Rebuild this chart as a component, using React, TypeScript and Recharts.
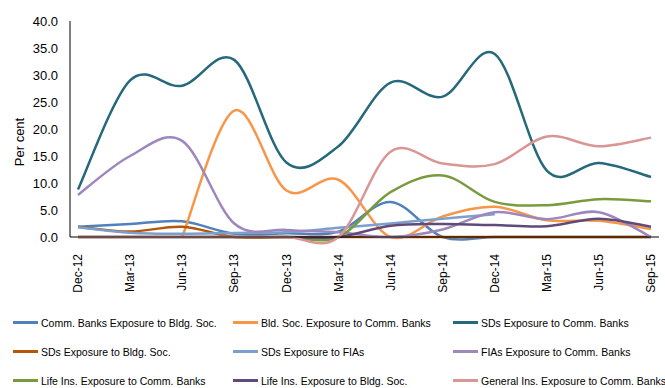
import React from 'react';
import { LineChart, Line, XAxis, YAxis, Legend } from 'recharts';

const quarters = ['Dec-12', 'Mar-13', 'Jun-13', 'Sep-13', 'Dec-13', 'Mar-14', 'Jun-14', 'Sep-14', 'Dec-14', 'Mar-15', 'Jun-15', 'Sep-15'];

const commBanksToBldgSoc = [1.9, 2.4, 2.9, 0.6, 0.7, 1.0, 6.5, 0, 0, 0, 0, 0];
const bldSocToCommBanks = [null, null, 0, 23.4, 8.6, 10.6, 0, 3.8, 5.6, 3.1, 3.0, 1.5];
const sdsToCommBanks = [8.8, 29.0, 28.0, 32.8, 13.8, 16.8, 28.6, 26.0, 33.9, 12.3, 13.7, 11.1];
const sdsToBldgSoc = [1.9, 1.0, 1.9, 0, 0, 0, 0, 0, 0, 0, 0, 0];
const sdsToFias = [1.8, 0.8, 0.6, 0.75, 0.9, 1.7, 2.5, 3.4, 4.2, null, null, null];
const fiasToCommBanks = [7.8, 15.0, 17.8, 2.5, 1.3, 0.9, 0, 1.4, 4.6, 3.3, 4.6, 0];
const lifeInsToCommBanks = [0, 0, 0, 0, 0, 0, 8.3, 11.4, 6.5, 5.9, 7.0, 6.6];
const lifeInsToBldgSoc = [0, 0, 0, 0, 0, 0, 2.1, 2.4, 2.2, 2.0, 3.4, 1.9];
const generalInsToCommBanks = [0, 0, 0, 0, 0, 0, 15.8, 13.6, 13.5, 18.6, 16.8, 18.4];

const yTicks = [0, 5, 10, 15, 20, 25, 30, 35, 40];

const series = [
  { key: 'commBanksToBldgSoc', name: 'Comm. Banks Exposure to Bldg. Soc.', color: '#4F81BD', values: commBanksToBldgSoc },
  { key: 'bldSocToCommBanks', name: 'Bld. Soc. Exposure to Comm. Banks', color: '#F79646', values: bldSocToCommBanks },
  { key: 'sdsToCommBanks', name: 'SDs Exposure to Comm. Banks', color: '#25697A', values: sdsToCommBanks },
  { key: 'sdsToBldgSoc', name: 'SDs Exposure to Bldg. Soc.', color: '#B65708', values: sdsToBldgSoc },
  { key: 'sdsToFias', name: 'SDs Exposure to FIAs', color: '#7BA0CD', values: sdsToFias },
  { key: 'fiasToCommBanks', name: 'FIAs Exposure to Comm. Banks', color: '#9D87BD', values: fiasToCommBanks },
  { key: 'lifeInsToCommBanks', name: 'Life Ins. Exposure to Comm. Banks', color: '#7A9A3E', values: lifeInsToCommBanks },
  { key: 'lifeInsToBldgSoc', name: 'Life Ins. Exposure to Bldg. Soc.', color: '#604A7B', values: lifeInsToBldgSoc },
  { key: 'generalInsToCommBanks', name: 'General Ins. Exposure to Comm. Banks', color: '#D99694', values: generalInsToCommBanks },
];

const data = quarters.map((quarter, i) => {
  const row: Record<string, string | number | null> = { quarter };
  series.forEach((s) => {
    row[s.key] = s.values[i];
  });
  return row;
});

// Spreadsheet-style smoothing: Catmull-Rom segments written as cubic beziers
const smoothCurve = (context: any) => {
  let pts: [number, number][] = [];
  return {
    areaStart() {},
    areaEnd() {},
    lineStart() {
      pts = [];
    },
    point(x: number, y: number) {
      pts.push([+x, +y]);
    },
    lineEnd() {
      if (!pts.length) return;
      context.moveTo(pts[0][0], pts[0][1]);
      for (let i = 0; i < pts.length - 1; i++) {
        const p0 = pts[i - 1] || pts[i];
        const p1 = pts[i];
        const p2 = pts[i + 1];
        const p3 = pts[i + 2] || p2;
        context.bezierCurveTo(
          p1[0] + (p2[0] - p0[0]) / 6,
          p1[1] + (p2[1] - p0[1]) / 6,
          p2[0] - (p3[0] - p1[0]) / 6,
          p2[1] - (p3[1] - p1[1]) / 6,
          p2[0],
          p2[1]
        );
      }
    },
  };
};

const QuarterTick = ({ x, y, payload }: any) => (
  <text
    x={x}
    y={y + 9}
    dy="0.35em"
    transform={`rotate(-90, ${x}, ${y + 9})`}
    textAnchor="end"
    fontSize={12}
    fill="#000"
  >
    {payload.value}
  </text>
);

const PerCentLabel = ({ viewBox }: any) => {
  const cx = viewBox.x + 19;
  const cy = viewBox.y + viewBox.height / 2 + 13;
  return (
    <text x={cx} y={cy} transform={`rotate(-90, ${cx}, ${cy})`} textAnchor="middle" dy="0.35em" fontSize={13} fill="#000">
      Per cent
    </text>
  );
};

const renderLegend = () => (
  <div
    style={{
      display: 'grid',
      gridTemplateColumns: '220px 220px 212px',
      gridAutoRows: '29px',
      paddingLeft: 13,
      fontSize: 10.5,
      color: '#000',
    }}
  >
    {series.map((s) => (
      <div key={s.key} style={{ display: 'flex', alignItems: 'center', whiteSpace: 'nowrap' }}>
        <span style={{ display: 'inline-block', width: 25, height: 3, background: s.color, marginRight: 3, flexShrink: 0 }} />
        <span>{s.name}</span>
      </div>
    ))}
  </div>
);

export default function App() {
  return (
    <div
      style={{
        width: 665,
        height: 388,
        position: 'relative',
        overflow: 'hidden',
        background: '#fff',
        fontFamily: '"Liberation Sans", Arial, sans-serif',
      }}
    >
      <style>{'body{margin:0}'}</style>
      <LineChart width={665} height={388} data={data} margin={{ top: 21, right: 6, left: 0, bottom: 101 }}>
        <XAxis
          dataKey="quarter"
          height={50}
          padding={{ left: 8, right: 8 }}
          interval={0}
          tick={<QuarterTick />}
          tickLine={false}
          axisLine={{ stroke: '#000', strokeWidth: 1 }}
        />
        <XAxis xAxisId="top" dataKey="quarter" orientation="top" height={0} tick={false} tickLine={false} axisLine={{ stroke: '#404040' }} />
        <YAxis
          width={70}
          domain={[0, 40]}
          ticks={yTicks}
          tickFormatter={(v: number) => v.toFixed(1)}
          tick={{ fontSize: 13, fill: '#000' }}
          tickSize={0}
          tickMargin={12}
          axisLine={{ stroke: '#000', strokeWidth: 1 }}
          label={<PerCentLabel />}
        />
        <YAxis yAxisId="right" orientation="right" width={0} domain={[0, 40]} tick={false} tickLine={false} axisLine={{ stroke: '#404040' }} />
        <Legend
          layout="vertical"
          align="center"
          verticalAlign="middle"
          content={renderLegend}
          wrapperStyle={{ top: 308, left: 0, width: 665 }}
        />
        {series.map((s) => (
          <Line
            key={s.key}
            dataKey={s.key}
            name={s.name}
            type={smoothCurve as any}
            stroke={s.color}
            strokeWidth={2.5}
            dot={false}
            activeDot={false}
            isAnimationActive={false}
          />
        ))}
      </LineChart>
    </div>
  );
}
